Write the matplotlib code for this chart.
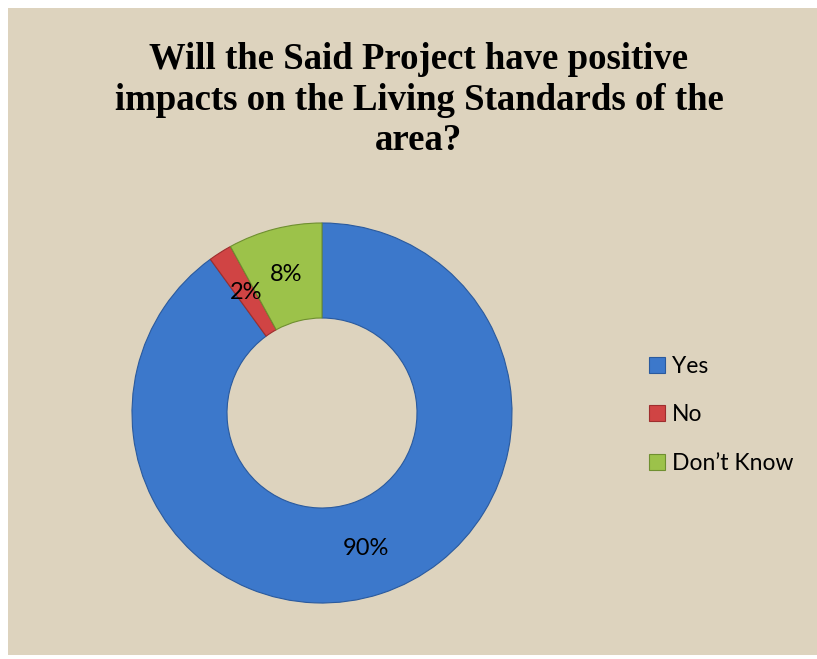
import matplotlib
matplotlib.use("Agg")
import matplotlib.pyplot as plt
import numpy as np

categories = ["Yes", "No", "Don\u2019t Know"]
values = [90, 2, 8]
labels_pct = ["90%", "2%", "8%"]
colors = ["#3C78CB", "#D04444", "#9CC24A"]
edge_colors = ["#2A5A9E", "#9E2E2E", "#6F8F30"]
title = "Will the Said Project have positive\nimpacts on the Living Standards of the\narea?"

W, H = 817, 659
fig = plt.figure(figsize=(W / 100, H / 100), dpi=100)
fig.patch.set_facecolor("white")

bg = fig.add_axes([8 / W, 4 / H, (W - 8) / W, (H - 12) / H], zorder=-5)
bg.set_facecolor("#DDD3BE")
bg.set_xticks([])
bg.set_yticks([])
for s in bg.spines.values():
    s.set_visible(False)

cx, cy, r = 322, 413, 190
ax = fig.add_axes([(cx - r) / W, (H - cy - r) / H, 2 * r / W, 2 * r / H], zorder=1)
ax.set_facecolor("none")
wedges, _ = ax.pie(values, colors=colors, startangle=90, counterclock=False,
                   radius=1.0, wedgeprops=dict(width=0.5, linewidth=0.8))
for w, ec in zip(wedges, edge_colors):
    w.set_edgecolor(ec)

total = sum(values)
ang = 90.0
for v, lab in zip(values, labels_pct):
    span = 360.0 * v / total
    mid = np.deg2rad(ang - span / 2)
    ax.text(0.75 * np.cos(mid), 0.75 * np.sin(mid), lab, ha="center", va="center",
            fontsize=17, family=["Lato", "DejaVu Sans"], color="black")
    ang -= span
ax.set_xlim(-1, 1)
ax.set_ylim(-1, 1)
ax.set_aspect("equal")
ax.axis("off")

fig.text(419 / W, 1 - 100 / H, title, ha="center", va="center", fontsize=26.5,
         fontweight="bold", family=["Liberation Serif", "DejaVu Serif"],
         linespacing=1.22, zorder=3)

leg = fig.legend(wedges, categories, loc="center left",
                 bbox_to_anchor=(628 / W, 1 - 415 / H), frameon=False,
                 prop=dict(family=["Lato", "DejaVu Sans"], size=16.5),
                 handlelength=0.7, handleheight=0.7, handletextpad=0.3,
                 labelspacing=1.2)
leg.set_zorder(3)

fig.savefig("out.png", dpi=100, facecolor=fig.get_facecolor())
